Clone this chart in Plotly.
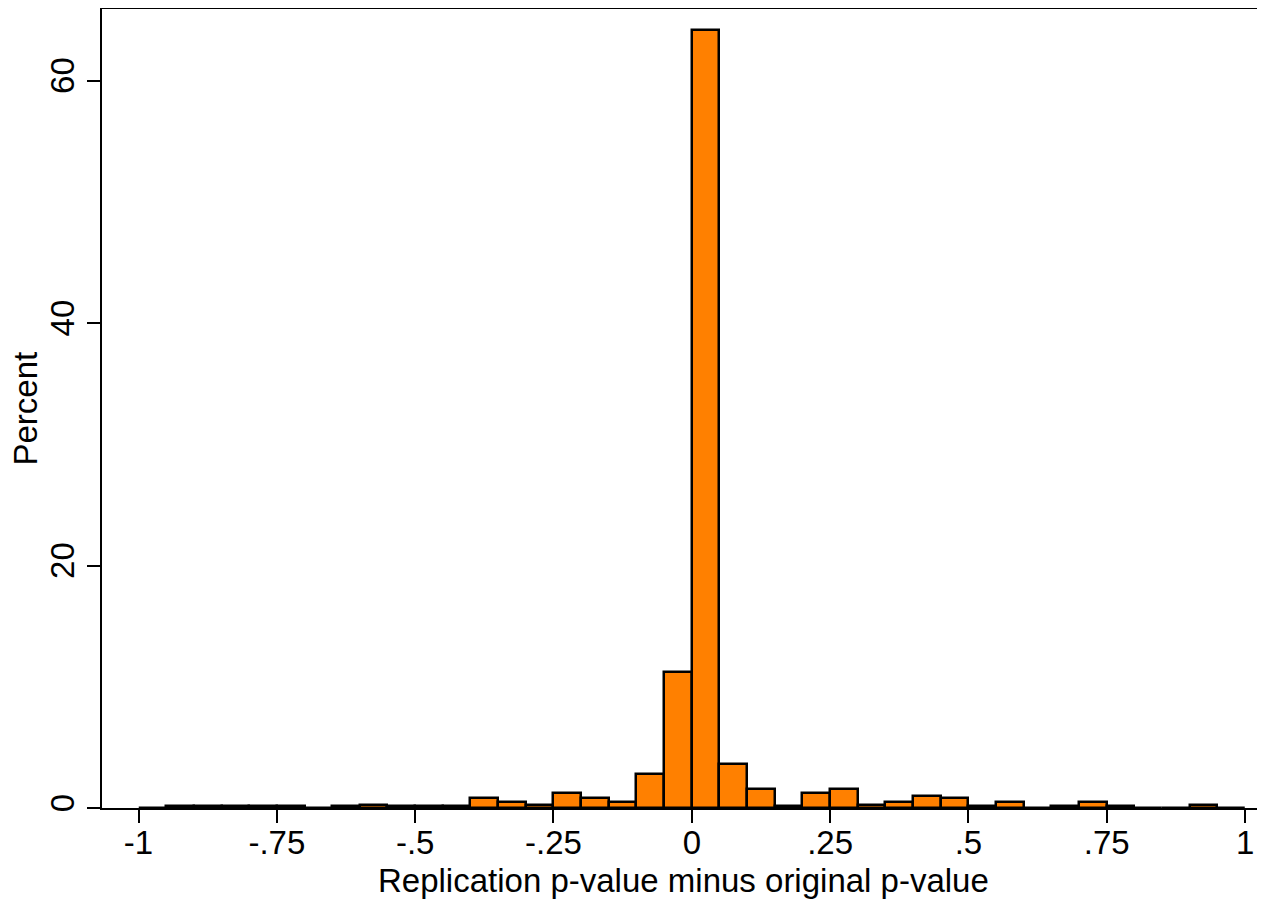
import plotly.graph_objects as go

# histogram bins: left edges, width .05
BIN_WIDTH = 0.05
bin_left = [round(-1 + i * BIN_WIDTH, 2) for i in range(40)]
percent = [
    0.0, 0.13, 0.13, 0.13, 0.13, 0.13, 0.0, 0.13, 0.27, 0.13,   # -1 .. -.55
    0.13, 0.13, 0.8, 0.53, 0.27, 1.2, 0.8, 0.53, 2.8, 11.2,     # -.5 .. -.05
    64.2, 3.6, 1.6, 0.13, 1.2, 1.6, 0.27, 0.53, 0.95, 0.8,      # 0 .. .45
    0.13, 0.53, 0.0, 0.13, 0.53, 0.13, 0.0, 0.0, 0.27, 0.0,     # .5 .. .95
]
x_ticks = [-1, -0.75, -0.5, -0.25, 0, 0.25, 0.5, 0.75, 1]
x_ticklabels = ['-1', '-.75', '-.5', '-.25', '0', '.25', '.5', '.75', '1']
y_ticks = [0, 20, 40, 60]

FONT = 'Liberation Sans, Arial, Helvetica, sans-serif'

fig = go.Figure(go.Bar(
    x=[b + BIN_WIDTH / 2 for b in bin_left],
    y=percent,
    width=BIN_WIDTH,
    marker=dict(color='#ff8000', line=dict(color='black', width=2.5)),
))

# NOTE: page body has an 8px margin, so the figure is 8px smaller than the window
fig.update_layout(
    width=1257, height=895,
    margin=dict(l=94, r=0, t=1, b=95, autoexpand=False),
    paper_bgcolor='white', plot_bgcolor='white',
    font=dict(family=FONT, size=33, color='black'),
    showlegend=False,
    bargap=0,
)
fig.update_xaxes(
    range=[-1.066, 1.036], automargin=False,
    tickvals=x_ticks, ticktext=x_ticklabels,
    ticks='outside', ticklen=13, tickwidth=2, tickcolor='black',
    ticklabelstandoff=-9,
    showline=True, linewidth=2, linecolor='black', mirror=True,
    showgrid=False, zeroline=False,
)
fig.update_yaxes(
    range=[0, 65.9], automargin=False,
    tickvals=y_ticks, tickangle=-90,
    ticks='outside', ticklen=13, tickwidth=2, tickcolor='black',
    showline=True, linewidth=2, linecolor='black',
    showgrid=False, zeroline=False,
)

# NOTE: axis titles as annotations so the plot area stays put
fig.add_annotation(text='Replication p-value minus original p-value',
                   xref='paper', yref='paper', x=0.5, y=0,
                   xanchor='center', yanchor='middle', yshift=-72,
                   showarrow=False, font=dict(size=33))
fig.add_annotation(text='Percent', textangle=-90,
                   xref='paper', yref='paper', x=0, y=0.5,
                   xanchor='center', yanchor='middle', xshift=-77,
                   showarrow=False, font=dict(size=33))

fig.write_html('out.html')
